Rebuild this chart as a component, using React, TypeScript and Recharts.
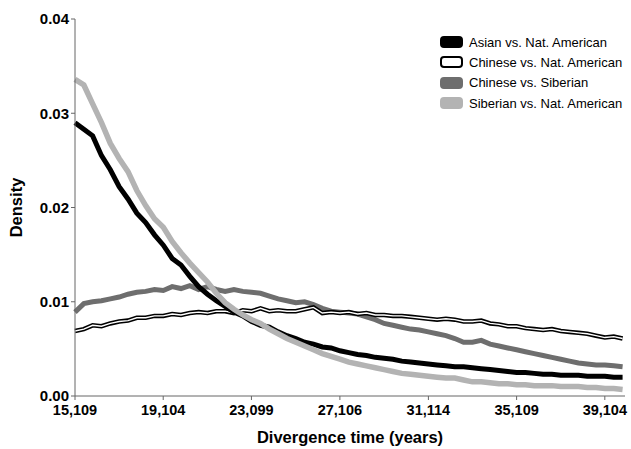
import { LineChart, Line, XAxis, YAxis, Label } from 'recharts';

// bin start (years); one point every 400 years
const years = [
  15109, 15509, 15909, 16309, 16709, 17109, 17509, 17909, 18309, 18709,
  19109, 19509, 19909, 20309, 20709, 21109, 21509, 21909, 22309, 22709,
  23109, 23509, 23909, 24309, 24709, 25109, 25509, 25909, 26309, 26709,
  27109, 27509, 27909, 28309, 28709, 29109, 29509, 29909, 30309, 30709,
  31109, 31509, 31909, 32309, 32709, 33109, 33509, 33909, 34309, 34709,
  35109, 35509, 35909, 36309, 36709, 37109, 37509, 37909, 38309, 38709,
  39109, 39509, 39909,
];

const asianNatAm = [
  0.0290, 0.0283, 0.0276, 0.0255, 0.0240, 0.0222, 0.0209, 0.0194, 0.0184, 0.0171,
  0.0160, 0.0146, 0.0139, 0.0127, 0.0116, 0.0108, 0.0101, 0.0095, 0.0089, 0.0085,
  0.0079, 0.0075, 0.0073, 0.0068, 0.0064, 0.0061, 0.0057, 0.0055, 0.0052, 0.0051,
  0.0048, 0.0046, 0.0044, 0.0043, 0.0041, 0.0040, 0.0039, 0.0037, 0.0036, 0.0035,
  0.0034, 0.0033, 0.0032, 0.0031, 0.0031, 0.0030, 0.0029, 0.0028, 0.0027, 0.0026,
  0.0025, 0.0025, 0.0024, 0.0023, 0.0023, 0.0022, 0.0022, 0.0022, 0.0021, 0.0021,
  0.0021, 0.0020, 0.0020,
];

const chineseNatAm = [
  0.0069, 0.0071, 0.0075, 0.0074, 0.0077, 0.0079, 0.0080, 0.0083, 0.0083, 0.0085,
  0.0085, 0.0087, 0.0086, 0.0088, 0.0089, 0.0088, 0.0090, 0.0090, 0.0088, 0.0091,
  0.0090, 0.0093, 0.0090, 0.0091, 0.0090, 0.0090, 0.0092, 0.0094, 0.0088, 0.0089,
  0.0088, 0.0089, 0.0087, 0.0088, 0.0086, 0.0086, 0.0085, 0.0085, 0.0084, 0.0083,
  0.0082, 0.0081, 0.0082, 0.0081, 0.0079, 0.0079, 0.0080, 0.0077, 0.0076, 0.0074,
  0.0074, 0.0072, 0.0071, 0.0070, 0.0071, 0.0069, 0.0068, 0.0067, 0.0066, 0.0064,
  0.0062, 0.0063, 0.0061,
];

const chineseSiberian = [
  0.0089, 0.0098, 0.0100, 0.0101, 0.0103, 0.0105, 0.0108, 0.0110, 0.0111, 0.0113,
  0.0112, 0.0116, 0.0114, 0.0117, 0.0113, 0.0116, 0.0113, 0.0111, 0.0113, 0.0111,
  0.0110, 0.0109, 0.0106, 0.0103, 0.0101, 0.0099, 0.0100, 0.0097, 0.0093, 0.0090,
  0.0089, 0.0088, 0.0087, 0.0084, 0.0081, 0.0077, 0.0075, 0.0073, 0.0071, 0.0070,
  0.0068, 0.0066, 0.0064, 0.0061, 0.0057, 0.0057, 0.0059, 0.0055, 0.0053, 0.0051,
  0.0049, 0.0047, 0.0045, 0.0043, 0.0041, 0.0039, 0.0037, 0.0035, 0.0034, 0.0033,
  0.0033, 0.0032, 0.0031,
];

const siberianNatAm = [
  0.0336, 0.0330, 0.0310, 0.0290, 0.0268, 0.0252, 0.0238, 0.0218, 0.0202, 0.0188,
  0.0179, 0.0164, 0.0152, 0.0141, 0.0131, 0.0121, 0.0109, 0.0099, 0.0092, 0.0086,
  0.0081, 0.0077, 0.0071, 0.0066, 0.0061, 0.0057, 0.0053, 0.0049, 0.0045, 0.0042,
  0.0039, 0.0036, 0.0034, 0.0032, 0.0030, 0.0028, 0.0026, 0.0024, 0.0023, 0.0022,
  0.0021, 0.0020, 0.0019, 0.0019, 0.0017, 0.0015, 0.0015, 0.0014, 0.0013, 0.0013,
  0.0012, 0.0012, 0.0011, 0.0011, 0.0011, 0.0010, 0.0010, 0.0010, 0.0009, 0.0009,
  0.0008, 0.0008, 0.0007,
];

const xTicks = [15109, 19104, 23099, 27106, 31114, 35109, 39104];
const yTicks = [0, 0.01, 0.02, 0.03, 0.04];

const legendItems = [
  { label: 'Asian vs. Nat. American', fill: '#000000', stroke: '#000000' },
  { label: 'Chinese vs. Nat. American', fill: '#ffffff', stroke: '#000000' },
  { label: 'Chinese vs. Siberian', fill: '#6e6e6e', stroke: '#6e6e6e' },
  { label: 'Siberian vs. Nat. American', fill: '#b3b3b3', stroke: '#b3b3b3' },
];

const data = years.map((year, i) => ({
  year,
  asian: asianNatAm[i],
  chinese: chineseNatAm[i],
  chSib: chineseSiberian[i],
  sib: siberianNatAm[i],
}));

const FONT = 'Arial, "Liberation Sans", sans-serif';

function LegendBox() {
  return (
    <div style={{ position: 'absolute', left: 440, top: 32, fontFamily: FONT, fontSize: 13, color: '#000' }}>
      {legendItems.map((item) => (
        <div key={item.label} style={{ display: 'flex', alignItems: 'center', height: 20.3 }}>
          <svg width={24} height={14} style={{ marginRight: 5 }}>
            <rect x={1} y={2} width={21} height={10} rx={3} fill={item.fill} stroke={item.stroke} strokeWidth={2} />
          </svg>
          <span>{item.label}</span>
        </div>
      ))}
    </div>
  );
}

export default function App() {
  return (
    <div style={{ position: 'absolute', left: 0, top: 0, width: 631, height: 449, background: '#fff' }}>
      <LineChart width={631} height={449} data={data} margin={{ top: 19, right: 6, left: 0, bottom: 0 }}>
        <XAxis
          dataKey="year"
          type="number"
          domain={[15109, 40018]}
          ticks={xTicks}
          tickFormatter={(v) => v.toLocaleString('en-US')}
          stroke="#666"
          tickSize={4}
          height={53}
          tick={{ fill: '#000', fontSize: 14.5, fontWeight: 'bold', fontFamily: FONT, dy: 3 }}
        >
          <Label
            value="Divergence time (years)"
            position="insideBottom"
            offset={6}
            style={{ fill: '#000', fontSize: 16.5, fontWeight: 'bold', fontFamily: FONT }}
          />
        </XAxis>
        <YAxis
          domain={[0, 0.04]}
          ticks={yTicks}
          tickFormatter={(v) => v.toFixed(2)}
          stroke="#666"
          tickSize={4}
          width={75}
          tick={{ fill: '#000', fontSize: 15, fontWeight: 'bold', fontFamily: FONT }}
        >
          <Label
            content={({ viewBox }: any) => {
              const cx = viewBox.x + 18;
              const cy = viewBox.y + viewBox.height / 2;
              return (
                <text
                  x={cx}
                  y={cy}
                  transform={`rotate(-90, ${cx}, ${cy})`}
                  textAnchor="middle"
                  dominantBaseline="middle"
                  style={{ fill: '#000', fontSize: 16.5, fontWeight: 'bold', fontFamily: FONT }}
                >
                  Density
                </text>
              );
            }}
          />
        </YAxis>
        <Line type="linear" dataKey="chSib" stroke="#6e6e6e" strokeWidth={5} dot={false} isAnimationActive={false} />
        <Line type="linear" dataKey="chinese" stroke="#000" strokeWidth={4.5} dot={false} isAnimationActive={false} />
        <Line type="linear" dataKey="chinese" stroke="#fff" strokeWidth={1.4} dot={false} isAnimationActive={false} />
        <Line type="linear" dataKey="asian" stroke="#000" strokeWidth={5} dot={false} isAnimationActive={false} />
        <Line type="linear" dataKey="sib" stroke="#b3b3b3" strokeWidth={5.5} dot={false} isAnimationActive={false} />
      </LineChart>
      <LegendBox />
    </div>
  );
}
